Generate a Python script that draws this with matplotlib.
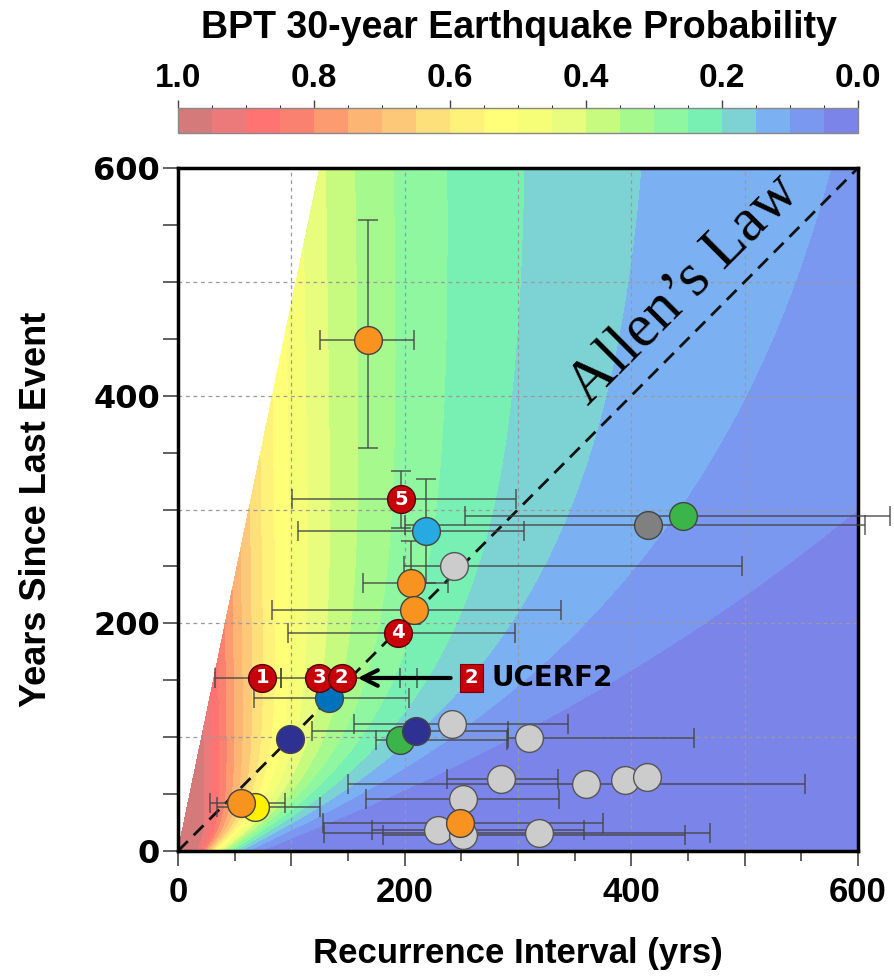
# BPT 30-year earthquake probability vs recurrence interval and time since last event

import math

import matplotlib
matplotlib.use("Agg")
import matplotlib.pyplot as plt
import numpy as np
from matplotlib.colors import BoundaryNorm, ListedColormap
from matplotlib.cm import ScalarMappable

# ---- data ----
# light gray sites
gray_x = [243.5, 241.5, 309.7, 285.0, 360.0, 394.0, 413.5, 251.8, 229.7, 251.8, 318.5]
gray_y = [250.0, 112.0, 99.0, 63.3, 59.0, 62.4, 64.7, 46.1, 18.4, 14.1, 15.5]
gray_xlo = [199, 155, 291, 237, 150, 394.0, 413.5, 166, 171, 181, 129]
gray_xhi = [498, 344, 455, 335, 553, 394.0, 413.5, 336, 358, 447, 469]

# coloured sites: x, y, x range, y range, colour
site_x = [415.0, 446.0, 196.0, 218.5, 133.0, 98.5, 210.0,
          168.0, 205.6, 208.5, 67.6, 55.8, 248.8]
site_y = [286.4, 294.0, 97.5, 281.0, 134.0, 98.4, 105.4,
          449.0, 235.0, 212.0, 38.9, 41.9, 24.8]
site_xlo = [200, 253, 175, 106, 67, 98.5, 118, 125, 163, 83, 34, 28, 128]
site_xhi = [606, 628, 290, 305, 204, 98.5, 291.5, 208.5, 238, 338, 125, 94, 375]
site_ylo = [286.4, 294.0, 97.5, 235, 134.0, 98.4, 105.4, 354, 199, 212.0, 38.9, 41.9, 24.8]
site_yhi = [286.4, 294.0, 97.5, 327, 134.0, 98.4, 105.4, 554, 272, 212.0, 38.9, 41.9, 24.8]
site_colors = ["#808080", "#3bb54a", "#3bb54a", "#27aae1", "#0072bc", "#2e3192", "#2e3192",
               "#f7931e", "#f7931e", "#f7931e", "#fff200", "#f7931e", "#f7931e"]

# numbered (red) sites
num_labels = ["1", "3", "2", "4", "5"]
num_x = [74.5, 124.4, 144.5, 194.4, 197.0]
num_y = [152.0, 152.0, 152.0, 191.7, 309.0]
num_xlo = [33, 91, 115, 97, 101]
num_xhi = [91, 196, 211, 297, 298]
num_ylo = [152.0, 152.0, 152.0, 191.7, 284]
num_yhi = [152.0, 152.0, 152.0, 191.7, 334]

# colour scale (probability bins 0.00-0.05 ... 0.95-1.00)
bin_colors = ["#7b84e8", "#7a98f0", "#7bb1f2", "#7dd3d3", "#78f0b4",
              "#8ef7a0", "#a5f98d", "#c6fb80", "#e8fd7e", "#f6fe78",
              "#ffff78", "#fff27a", "#fee07a", "#fdc878", "#fdb574",
              "#fc9a70", "#fa8070", "#ff7373", "#ec7a7a", "#d47a7a"]
levels = np.linspace(0, 1, 21)

alpha = 0.5      # aperiodicity
window = 30.0    # forecast window (yrs)
max_ratio = 4.8  # field not drawn beyond this time-since / recurrence ratio


def phi(z):
    erfc = np.frompyfunc(math.erfc, 1, 1)
    return 0.5 * erfc(-np.asarray(z, dtype=float) / math.sqrt(2)).astype(float)


def bpt_cdf(t, mu, a):
    t = np.maximum(t, 1e-9)
    r = t / mu
    u1 = (np.sqrt(r) - 1 / np.sqrt(r)) / a
    u2 = (np.sqrt(r) + 1 / np.sqrt(r)) / a
    return phi(u1) + np.exp(2 / a**2) * phi(-u2)


# curvilinear grid: recurrence x (time since / recurrence)
mu = np.linspace(0.5, 600, 400)
ratio = np.linspace(0, max_ratio, 600)
M = np.tile(mu, (ratio.size, 1))
T = ratio[:, None] * mu[None, :]
F0 = bpt_cdf(T, M, alpha)
F1 = bpt_cdf(T + window, M, alpha)
with np.errstate(divide="ignore", invalid="ignore"):
    prob = (F1 - F0) / (1 - F0)
prob = np.nan_to_num(np.clip(prob, 0, 0.9999), nan=0.9999)

cmap = ListedColormap(bin_colors)
norm = BoundaryNorm(levels, cmap.N)

fig = plt.figure(figsize=(8.94, 9.76), dpi=100)
ax = fig.add_axes([178 / 894, 1 - 851 / 976, 680 / 894, 683 / 976])

ax.contourf(M, T, prob, levels=levels, cmap=cmap, norm=norm, zorder=0)

ax.plot([0, 600], [0, 600], ls=(0, (5, 3)), color="#111111", lw=2, zorder=2)
ax.text(456, 484, "Allen\u2019s Law", family=["Liberation Serif", "DejaVu Serif"],
        fontsize=44, rotation=45, rotation_mode="anchor", ha="center",
        va="baseline", zorder=6)

eb = dict(fmt="none", ecolor="#444444", elinewidth=1.2, capsize=7, capthick=1.2,
          alpha=0.8, zorder=3, clip_on=False)

gx, gy = np.array(gray_x), np.array(gray_y)
ax.errorbar(gx, gy, xerr=[gx - np.array(gray_xlo), np.array(gray_xhi) - gx], **eb)
sx, sy = np.array(site_x), np.array(site_y)
ax.errorbar(sx, sy, xerr=[sx - np.array(site_xlo), np.array(site_xhi) - sx],
            yerr=[sy - np.array(site_ylo), np.array(site_yhi) - sy], **eb)
nx, ny = np.array(num_x), np.array(num_y)
ax.errorbar(nx, ny, xerr=[nx - np.array(num_xlo), np.array(num_xhi) - nx],
            yerr=[ny - np.array(num_ylo), np.array(num_yhi) - ny], **eb)

for x, y in zip(gray_x, gray_y):
    ax.plot(x, y, "o", ms=20, mfc="#cccccc", mec="#555555", mew=1, zorder=4)
for x, y, c in zip(site_x, site_y, site_colors):
    ax.plot(x, y, "o", ms=20, mfc=c, mec="#444444", mew=1, zorder=4)
for lab, x, y in zip(num_labels, num_x, num_y):
    ax.plot(x, y, "o", ms=20, mfc="#c8000a", mec="#550000", mew=1, zorder=5)
    ax.text(x, y, lab, color="white", fontsize=14, fontweight="bold",
            ha="center", va="center", zorder=6)

# UCERF2 callout
ax.annotate("", xy=(156, 152), xytext=(243, 152),
            arrowprops=dict(arrowstyle="->", lw=3, color="black", mutation_scale=28),
            zorder=6)
ax.text(259, 152, "2", color="white", fontsize=14, fontweight="bold", ha="center",
        va="center", zorder=6,
        bbox=dict(boxstyle="square,pad=0.25", fc="#c8000a", ec="#770000", lw=0.8))
ax.text(277, 152, "UCERF2", fontsize=20, fontweight="bold", ha="left",
        va="center", zorder=6)

ax.set_xlim(0, 600)
ax.set_ylim(0, 600)
ax.set_xticks(np.arange(0, 601, 100))
ax.set_xticklabels(["0", "", "200", "", "400", "", "600"])
ax.set_xticks(np.arange(50, 600, 100), minor=True)
ax.set_yticks(np.arange(0, 601, 100))
ax.set_yticklabels(["0", "", "200", "", "400", "", "600"])
ax.set_yticks(np.arange(50, 600, 100), minor=True)
ax.tick_params(axis="x", which="major", length=11, width=1.2, color="#444444", pad=7,
               labelsize=25)
ax.tick_params(axis="x", which="minor", length=7, width=1.2, color="#444444")
ax.tick_params(axis="y", which="both", length=11, width=1.2, color="#444444", pad=2)
ax.tick_params(axis="y", which="major", labelsize=23)
for lab in ax.get_xticklabels():
    lab.set_fontweight("bold")
    lab.set_family("Liberation Sans")
for lab in ax.get_yticklabels():
    lab.set_fontweight("bold")
    lab.set_family("DejaVu Sans")

ax.grid(True, which="major", ls=(0, (3, 3)), color="#9a9a9a", lw=0.9)
for sp in ax.spines.values():
    sp.set_linewidth(2.5)
    sp.set_color("black")

ax.set_xlabel("Recurrence Interval (yrs)", fontsize=25, fontweight="bold",
              family="Liberation Sans", labelpad=20)
ax.set_ylabel("Years Since Last Event", fontsize=26, fontweight="bold",
              family="Liberation Sans", labelpad=28)

# colour bar on top, reversed
cax = fig.add_axes([178 / 894, 1 - 133 / 976, 680 / 894, 25 / 976])
sm = ScalarMappable(norm=norm, cmap=cmap)
cb = fig.colorbar(sm, cax=cax, orientation="horizontal", ticks=np.linspace(0, 1, 6))
cax.invert_xaxis()
cax.xaxis.set_ticks_position("top")
cax.set_xticklabels(["0.0", "0.2", "0.4", "0.6", "0.8", "1.0"])
cax.tick_params(length=6, width=1, color="#444444", pad=4, labelsize=24)
for lab in cax.get_xticklabels():
    lab.set_fontweight("bold")
    lab.set_family(["Liberation Sans Narrow", "Liberation Sans"])
cb.outline.set_edgecolor("#888888")
cb.outline.set_linewidth(1)

fig.text(519 / 894, 1 - 28 / 976, "BPT 30-year Earthquake Probability", fontsize=27,
         fontweight="bold", family="Liberation Sans", ha="center", va="center")

fig.savefig("out.png", dpi=100)
